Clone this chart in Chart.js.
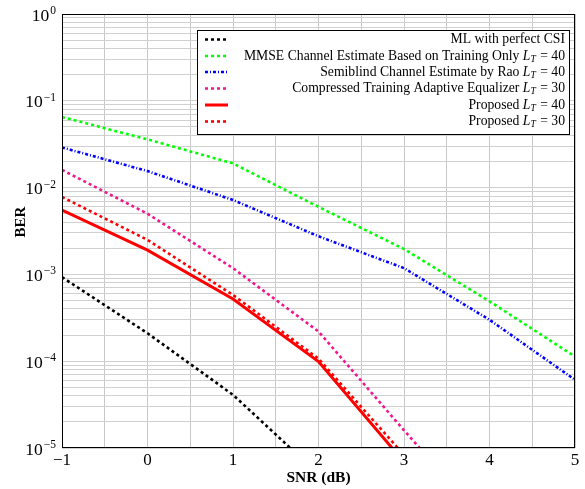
<!DOCTYPE html>
<html>
<head>
<meta charset="utf-8">
<script src="https://cdn.jsdelivr.net/npm/chart.js@4.4.0/dist/chart.umd.min.js"></script>
<style>
  html, body { margin: 0; padding: 0; background: #fff; }
  #wrap { width: 585px; height: 489px; }
</style>
</head>
<body>
<div id="wrap"><canvas id="berChart" width="585" height="489"></canvas></div>
<script>
// SNR points (dB)
const snr = [-1, 0, 1, 2, 3, 4, 5];

// BER values
const mlPerfectCsi = [9.3e-4, 2.1e-4, 4.1e-5, 5.0e-6, null, null, null];
const mmseTraining = [0.065, 0.036, 0.019, 6.0e-3, 1.96e-3, 4.9e-4, 1.13e-4];
const semiblindRao = [0.029, 0.0155, 7.2e-3, 2.75e-3, 1.18e-3, 3.0e-4, 6.1e-5];
const compressedTraining = [0.016, 5.0e-3, 1.18e-3, 2.2e-4, 1.6e-5, 1.2e-6, null];
const proposed40 = [5.5e-3, 1.9e-3, 5.2e-4, 9.9e-5, 6.9e-6, null, null];
const proposed30 = [7.8e-3, 2.5e-3, 5.8e-4, 1.07e-4, 8.3e-6, null, null];

// legend text: [before, value] -> "before L_T = value"
const legendText = [
    ['ML with perfect CSI', null],
    ['MMSE Channel Estimate Based on Training Only ', '40'],
    ['Semiblind Channel Estimate by Rao ', '40'],
    ['Compressed Training Adaptive Equalizer ', '30'],
    ['Proposed ', '40'],
    ['Proposed ', '30']
];

const xTicks = [-1, -0.5, 0, 0.5, 1, 1.5, 2, 2.5, 3, 3.5, 4, 4.5, 5];
const yDecades = [-5, -4, -3, -2, -1, 0];

const serif = '"Liberation Serif", "DejaVu Serif", serif';
const legendSize = 13.7;

function series(data, color, dash, width) {
    return {
        data: snr.map((x, i) => ({x: x, y: data[i]})),
        borderColor: color,
        backgroundColor: color,
        borderWidth: width,
        borderDash: dash,
        borderCapStyle: 'butt',
        pointRadius: 0,
        tension: 0,
        spanGaps: false,
        fill: false
    };
}

const datasets = [
    series(mlPerfectCsi, '#000000', [3, 3], 2.6),
    series(mmseTraining, '#00ff00', [3, 3], 2.6),
    series(semiblindRao, '#0000ff', [3, 2, 1, 2], 2.6),
    series(compressedTraining, '#f2158e', [3, 3], 2.6),
    series(proposed40, '#ff0000', [], 3),
    series(proposed30, '#ff0000', [3, 3], 2.6)
];

function drawLT(ctx, x, y, value) {
    // draws "L_T = value" right-aligned ending at x; returns start x
    ctx.textAlign = 'left';
    ctx.font = legendSize + 'px ' + serif;
    const rest = ' = ' + value;
    const wRest = ctx.measureText(rest).width;
    ctx.font = 'italic ' + legendSize + 'px ' + serif;
    const wL = ctx.measureText('L').width;
    ctx.font = 'italic 9.5px ' + serif;
    const wT = ctx.measureText('T').width;
    let start = x - wRest - wT - wL - 1;
    ctx.font = 'italic ' + legendSize + 'px ' + serif;
    ctx.fillText('L', start, y);
    ctx.font = 'italic 9.5px ' + serif;
    ctx.fillText('T', start + wL, y + 3);
    ctx.font = legendSize + 'px ' + serif;
    ctx.fillText(rest, start + wL + wT + 1, y);
    return start;
}

const labelsPlugin = {
    id: 'texLabels',
    afterDraw(chart) {
        const ctx = chart.ctx;
        const xs = chart.scales.x, ys = chart.scales.y;
        const area = chart.chartArea;
        ctx.save();
        ctx.fillStyle = '#000';
        ctx.textBaseline = 'middle';

        // frame
        ctx.strokeStyle = '#000';
        ctx.lineWidth = 1;
        ctx.strokeRect(area.left + 0.5, area.top + 0.5, area.right - area.left - 1, area.bottom - area.top - 1);

        // y tick labels 10^n
        yDecades.forEach(n => {
            const py = ys.getPixelForValue(Math.pow(10, n));
            const sup = n === 0 ? '0' : '\u2212' + Math.abs(n);
            ctx.font = '11.5px ' + serif;
            const wSup = ctx.measureText(sup).width;
            ctx.textAlign = 'right';
            ctx.fillText(sup, area.left - 6, py - 3);
            ctx.font = '17.5px ' + serif;
            ctx.fillText('10', area.left - 7 - wSup, py + 2);
        });

        // x tick labels
        ctx.font = '17px ' + serif;
        ctx.textAlign = 'center';
        xTicks.filter(v => Number.isInteger(v)).forEach(v => {
            const px = xs.getPixelForValue(v);
            ctx.fillText(v < 0 ? '\u2212' + Math.abs(v) : String(v), px, area.bottom + 13);
        });

        // axis titles
        ctx.font = 'bold 15.5px ' + serif;
        ctx.fillText('SNR (dB)', (area.left + area.right) / 2, area.bottom + 30);
        ctx.save();
        ctx.translate(21, 222);
        ctx.rotate(-Math.PI / 2);
        ctx.font = 'bold 15px ' + serif;
        ctx.fillText('BER', 0, 0);
        ctx.restore();

        // legend box
        const bx = 197, by = 30, bw = 372, bh = 104;
        ctx.fillStyle = '#fff';
        ctx.fillRect(bx, by, bw, bh);
        ctx.strokeStyle = '#000';
        ctx.lineWidth = 1;
        ctx.strokeRect(bx + 0.5, by + 0.5, bw, bh);
        const rowY = [39.5, 56, 72, 88.5, 105, 121.5];
        chart.data.datasets.forEach((ds, i) => {
            const y = rowY[i];
            ctx.beginPath();
            ctx.strokeStyle = ds.borderColor;
            ctx.lineWidth = ds.borderWidth;
            ctx.lineCap = 'butt';
            ctx.setLineDash(ds.borderDash);
            ctx.moveTo(205, y);
            ctx.lineTo(228, y);
            ctx.stroke();
            ctx.setLineDash([]);
            ctx.fillStyle = '#000';
            const [txt, val] = legendText[i];
            const rightX = 565;
            if (val === null) {
                ctx.font = legendSize + 'px ' + serif;
                ctx.textAlign = 'right';
                ctx.fillText(txt, rightX, y);
            } else {
                const start = drawLT(ctx, rightX, y, val);
                ctx.font = legendSize + 'px ' + serif;
                ctx.textAlign = 'right';
                ctx.fillText(txt, start, y);
            }
        });
        ctx.restore();
    }
};

new Chart(document.getElementById('berChart').getContext('2d'), {
    type: 'line',
    data: { datasets: datasets },
    options: {
        responsive: false,
        animation: false,
        layout: { padding: { left: 62, right: 10, top: 14, bottom: 41 } },
        plugins: {
            legend: { display: false },
            tooltip: { enabled: false }
        },
        scales: {
            x: {
                type: 'linear',
                min: -1,
                max: 5,
                afterBuildTicks: axis => { axis.ticks = xTicks.map(v => ({value: v})); },
                ticks: { display: false },
                grid: { color: '#c8c8c8', lineWidth: 1, drawTicks: false },
                border: { display: false }
            },
            y: {
                type: 'logarithmic',
                min: 1e-5,
                max: 1,
                afterBuildTicks: axis => {
                    const t = [];
                    yDecades.forEach(n => {
                        for (let m = 1; m <= 9; m++) {
                            const v = m * Math.pow(10, n);
                            if (v <= 1) t.push({value: v});
                        }
                    });
                    axis.ticks = t;
                },
                ticks: { display: false },
                grid: { color: '#d0d0d0', lineWidth: 1, drawTicks: false },
                border: { display: false }
            }
        }
    },
    plugins: [labelsPlugin]
});
</script>
</body>
</html>
